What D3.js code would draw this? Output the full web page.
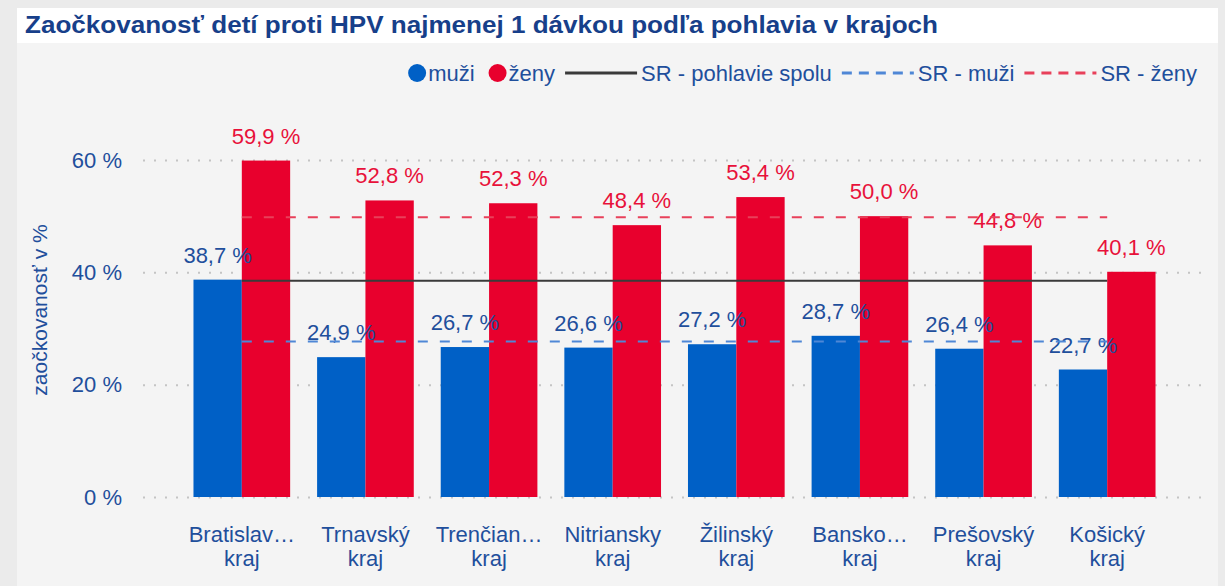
<!DOCTYPE html>
<html>
<head>
<meta charset="utf-8">
<script src="https://cdn.jsdelivr.net/npm/d3@7"></script>
<style>
  body { margin: 0; background: #ebebeb; }
  svg { display: block; font-family: "Liberation Sans", Arial, sans-serif; }
</style>
</head>
<body>
<script>
// data
var categories = ["Bratislavský kraj", "Trnavský kraj", "Trenčiansky kraj", "Nitriansky kraj",
                  "Žilinský kraj", "Banskobystrický kraj", "Prešovský kraj", "Košický kraj"];
var tickLabels = [["Bratislav…", "kraj"], ["Trnavský", "kraj"], ["Trenčian…", "kraj"], ["Nitriansky", "kraj"],
                  ["Žilinský", "kraj"], ["Bansko…", "kraj"], ["Prešovský", "kraj"], ["Košický", "kraj"]];
var muzi = [38.7, 24.9, 26.7, 26.6, 27.2, 28.7, 26.4, 22.7];
var zeny = [59.9, 52.8, 52.3, 48.4, 53.4, 50.0, 44.8, 40.1];
var srSpolu = 38.5;
var srMuzi = 27.7;
var srZeny = 49.8;
var yTicks = [0, 20, 40, 60];

var blue = "#0060c6", red = "#e8002d", textBlue = "#1f4f9c";

var svg = d3.select("body").append("svg")
    .attr("width", 1225)
    .attr("height", 586);

// panels
svg.append("rect").attr("x", 0).attr("y", 0).attr("width", 1225).attr("height", 586).attr("fill", "#ebebeb");
svg.append("rect").attr("x", 17).attr("y", 8).attr("width", 1201).attr("height", 35).attr("fill", "#ffffff");
svg.append("rect").attr("x", 17).attr("y", 43).attr("width", 1201).attr("height", 543).attr("fill", "#f4f4f4");

svg.append("text")
    .attr("x", 25).attr("y", 33)
    .attr("font-size", 23).attr("font-weight", "bold")
    .attr("fill", "#173f8a")
    .attr("textLength", 913).attr("lengthAdjust", "spacingAndGlyphs")
    .text("Zaočkovanosť detí proti HPV najmenej 1 dávkou podľa pohlavia v krajoch");

// scales
var x = d3.scaleBand().domain(categories).range([180, 1169]).paddingInner(0.218).paddingOuter(0.109);
var xs = d3.scaleBand().domain(["muzi", "zeny"]).range([0, x.bandwidth()]);
var y = d3.scaleLinear().domain([0, 60]).range([497, 160]);

// grid
svg.append("g")
    .attr("transform", "translate(143,0)")
    .call(d3.axisLeft(y).tickValues(yTicks).tickSize(-1062).tickFormat(""))
    .call(function(g) { g.select(".domain").remove(); })
    .selectAll("line")
    .attr("stroke", "#c4c4c4").attr("stroke-width", 2).attr("stroke-dasharray", "2,9");

// y axis labels
var yAxis = svg.append("g")
    .attr("transform", "translate(143,0)")
    .call(d3.axisLeft(y).tickValues(yTicks).tickSize(0).tickPadding(21).tickFormat(function(d) { return d + " %"; }));
yAxis.select(".domain").remove();
yAxis.selectAll("text").attr("font-size", 22).attr("fill", textBlue).attr("font-family", "Liberation Sans, Arial, sans-serif");

svg.append("text")
    .attr("transform", "translate(47,310) rotate(-90)")
    .attr("text-anchor", "middle")
    .attr("font-size", 21).attr("fill", textBlue)
    .text("zaočkovanosť v %");

// x axis labels
var xAxis = svg.append("g")
    .attr("transform", "translate(0,520)")
    .call(d3.axisBottom(x).tickSize(0).tickFormat(""));
xAxis.select(".domain").remove();
xAxis.selectAll(".tick").each(function(d, i) {
  var t = d3.select(this).append("text")
      .attr("text-anchor", "middle")
      .attr("font-size", 22).attr("fill", textBlue)
      .attr("font-family", "Liberation Sans, Arial, sans-serif");
  t.append("tspan").attr("x", 0).attr("y", 22).text(tickLabels[i][0]);
  t.append("tspan").attr("x", 0).attr("y", 46).text(tickLabels[i][1]);
});

// bars
var rows = categories.map(function(c, i) { return { cat: c, muzi: muzi[i], zeny: zeny[i] }; });
var groups = svg.append("g").selectAll("g")
  .data(rows)
  .enter().append("g")
    .attr("transform", function(d) { return "translate(" + x(d.cat) + ",0)"; });

groups.append("rect")
    .attr("x", xs("muzi")).attr("width", xs.bandwidth())
    .attr("y", function(d) { return y(d.muzi); })
    .attr("height", function(d) { return y(0) - y(d.muzi); })
    .attr("fill", blue);
groups.append("rect")
    .attr("x", xs("zeny")).attr("width", xs.bandwidth())
    .attr("y", function(d) { return y(d.zeny); })
    .attr("height", function(d) { return y(0) - y(d.zeny); })
    .attr("fill", red);

// reference lines from first to last category centre
var x0 = x(categories[0]) + x.bandwidth() / 2;
var x1 = x(categories[categories.length - 1]) + x.bandwidth() / 2;
svg.append("line").attr("x1", x0).attr("x2", x1).attr("y1", y(srSpolu)).attr("y2", y(srSpolu))
    .attr("stroke", "#3a3a3a").attr("stroke-width", 2);
svg.append("line").attr("x1", x0).attr("x2", x1).attr("y1", y(srMuzi)).attr("y2", y(srMuzi))
    .attr("stroke", "#4f87d6").attr("stroke-width", 2).attr("stroke-dasharray", "10,12");
svg.append("line").attr("x1", x0).attr("x2", x1).attr("y1", y(srZeny)).attr("y2", y(srZeny))
    .attr("stroke", "#e8405a").attr("stroke-width", 2).attr("stroke-dasharray", "10,12");

// value labels
function fmt(v) { return v.toFixed(1).replace(".", ",") + " %"; }
groups.append("text")
    .attr("x", xs("muzi") + xs.bandwidth() / 2)
    .attr("y", function(d) { return y(d.muzi) - 17; })
    .attr("text-anchor", "middle").attr("font-size", 22).attr("fill", textBlue)
    .text(function(d) { return fmt(d.muzi); });
groups.append("text")
    .attr("x", xs("zeny") + xs.bandwidth() / 2)
    .attr("y", function(d) { return y(d.zeny) - 17; })
    .attr("text-anchor", "middle").attr("font-size", 22).attr("fill", "#e8113a")
    .text(function(d) { return fmt(d.zeny); });

// legend, laid out left to right then shifted to end at x = 1197
var legendItems = [
  { label: "muži", type: "dot", color: blue },
  { label: "ženy", type: "dot", color: red },
  { label: "SR - pohlavie spolu", type: "line", color: "#3a3a3a" },
  { label: "SR - muži", type: "dash", color: "#4f87d6" },
  { label: "SR - ženy", type: "dash", color: "#e8405a" }
];
var legend = svg.append("g");
var cursor = 0;
legendItems.forEach(function(it) {
  if (it.type === "dot") {
    legend.append("circle").attr("cx", cursor + 9).attr("cy", 0).attr("r", 9).attr("fill", it.color);
    cursor += 20;
  } else {
    cursor -= 4;
    legend.append("line").attr("x1", cursor).attr("x2", cursor + 72).attr("y1", 0).attr("y2", 0)
        .attr("stroke", it.color).attr("stroke-width", 3)
        .attr("stroke-dasharray", it.type === "dash" ? "10,7" : null);
    cursor += 76;
  }
  var t = legend.append("text").attr("x", cursor).attr("y", 8)
      .attr("font-size", 22).attr("fill", textBlue).text(it.label);
  cursor += t.node().getComputedTextLength() + 14;
});
cursor -= 14;
legend.attr("transform", "translate(" + (1197 - cursor) + ",73)");
</script>
</body>
</html>
